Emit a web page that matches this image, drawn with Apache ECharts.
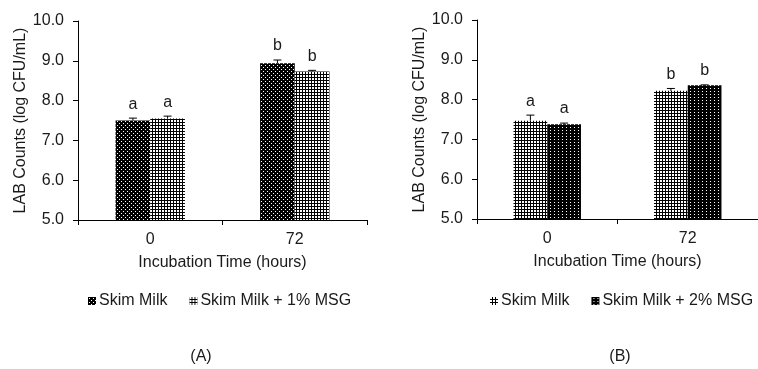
<!DOCTYPE html>
<html>
<head>
<meta charset="utf-8">
<script src="https://cdn.jsdelivr.net/npm/echarts@6/dist/echarts.min.js"></script>
<style>
  html, body { margin: 0; padding: 0; background: #fff; }
  #chartWrap { width: 758px; height: 369px; }
</style>
</head>
<body>
<div id="chartWrap"></div>
<script>
// 数据
var categories = ['0', '72']
var yTicks = [5, 6, 7, 8, 9, 10]

// (A) 脱脂奶 vs 脱脂奶 + 1% MSG
var skimA = [7.50, 8.94]
var skimAErr = [0.06, 0.08]
var skimALetters = ['a', 'b']
var msg1A = [7.55, 8.73]
var msg1AErr = [0.06, 0.03]
var msg1ALetters = ['a', 'b']

// (B) 脱脂奶 vs 脱脂奶 + 2% MSG
var skimB = [7.47, 8.22]
var skimBErr = [0.14, 0.06]
var skimBLetters = ['a', 'b']
var msg2B = [7.38, 8.36]
var msg2BErr = [0.03, 0.01]
var msg2BLetters = ['a', 'b']

var FONT = 'Liberation Sans, Arial, sans-serif'
var TXT = '#1a1a1a'
var FS = 16

// 填充图案
function makePattern(w, h, bg, fg, pts) {
  var c = document.createElement('canvas')
  c.width = w
  c.height = h
  var ctx = c.getContext('2d')
  ctx.fillStyle = bg
  ctx.fillRect(0, 0, w, h)
  ctx.fillStyle = fg
  pts.forEach(function (p) { ctx.fillRect(p[0], p[1], 1, 1) })
  return { image: c, repeat: 'repeat' }
}
// 黑底白点
var dotPattern = makePattern(4, 4, '#000', '#fff', [[1, 1], [3, 3]])
// 棋盘灰
var checkPattern = makePattern(3, 3, '#000', '#fff', [[0, 0], [1, 0], [0, 1], [1, 1]])
// 稀疏白点
var sparsePattern = makePattern(4, 3, '#000', '#fff', [[2, 1]])

function errData(vals, errs, letters) {
  return vals.map(function (v, i) { return [i, v, errs[i], letters[i]] })
}

function errSeries(idx, off, vals, errs, letters) {
  return {
    type: 'custom',
    name: 'err' + idx + off,
    xAxisIndex: idx,
    yAxisIndex: idx,
    z: 5,
    silent: true,
    encode: { x: 0, y: 1 },
    data: errData(vals, errs, letters),
    renderItem: function (params, api) {
      var bw = api.size([1, 0])[0]
      var base = api.coord([api.value(0), api.value(1)])
      var top = api.coord([api.value(0), api.value(1) + api.value(2)])
      var x = base[0] + bw * off
      var capW = 4
      return {
        type: 'group',
        children: [
          { type: 'line', shape: { x1: x, y1: base[1], x2: x, y2: top[1] }, style: { stroke: '#000', lineWidth: 1 } },
          { type: 'line', shape: { x1: x - capW, y1: top[1], x2: x + capW, y2: top[1] }, style: { stroke: '#000', lineWidth: 1 } },
          { type: 'text', x: x, y: top[1] - 6, style: { text: api.value(3), fill: TXT, font: FS + 'px ' + FONT, align: 'center', verticalAlign: 'bottom' } }
        ]
      }
    }
  }
}

function xAxisCfg(idx) {
  return {
    type: 'category',
    gridIndex: idx,
    data: categories,
    boundaryGap: true,
    name: 'Incubation Time (hours)',
    nameLocation: 'middle',
    nameGap: 35,
    nameTextStyle: { color: TXT, fontSize: FS, fontFamily: FONT },
    axisLine: { lineStyle: { color: '#000', width: 1 } },
    axisTick: { show: true, length: 5, lineStyle: { color: '#000' } },
    axisLabel: { color: TXT, fontSize: FS, fontFamily: FONT, margin: 12 }
  }
}

function yAxisCfg(idx, gap) {
  return {
    type: 'value',
    gridIndex: idx,
    min: yTicks[0],
    max: yTicks[yTicks.length - 1],
    interval: 1,
    name: 'LAB Counts (log CFU/mL)',
    nameLocation: 'middle',
    nameGap: gap,
    nameTextStyle: { color: TXT, fontSize: FS, fontFamily: FONT },
    axisLine: { show: true, lineStyle: { color: '#000', width: 1 } },
    axisTick: { show: true, length: 5, lineStyle: { color: '#000' } },
    splitLine: { show: false },
    axisLabel: {
      color: TXT, fontSize: FS, fontFamily: FONT, margin: 14,
      formatter: function (v) { return v.toFixed(1) }
    }
  }
}

function barSeries(idx, name, vals, pattern) {
  return {
    type: 'bar',
    name: name,
    xAxisIndex: idx,
    yAxisIndex: idx,
    barWidth: '24%',
    barGap: '0%',
    itemStyle: { color: pattern },
    data: vals
  }
}

var legendBase = {
  itemWidth: 8,
  itemHeight: 8,
  icon: 'rect',
  width: 320,
  textStyle: { color: TXT, fontSize: FS, fontFamily: FONT, padding: [0, 0, 0, -2] }
}

var myChart = echarts.init(document.getElementById('chartWrap'))
var option = {
  backgroundColor: '#fff',
  animation: false,
  grid: [
    { left: 78, top: 21, width: 289, height: 199 },
    { left: 477, top: 20, width: 288, height: 199 }
  ],
  xAxis: [xAxisCfg(0), xAxisCfg(1)],
  yAxis: [yAxisCfg(0, 49), yAxisCfg(1, 47)],
  legend: [
    Object.assign({ left: 83, top: 288, itemGap: 22, data: ['Skim Milk', 'Skim Milk + 1% MSG'] }, legendBase),
    Object.assign({ left: 485, top: 288, itemGap: 22, data: ['Skim Milk ', 'Skim Milk + 2% MSG'],
      formatter: function (n) { return n.trim() } }, legendBase)
  ],
  graphic: [
    { type: 'text', x: 201, y: 357, style: { text: '(A)', fill: TXT, font: FS + 'px ' + FONT, align: 'center', verticalAlign: 'middle' } },
    { type: 'text', x: 620, y: 357, style: { text: '(B)', fill: TXT, font: FS + 'px ' + FONT, align: 'center', verticalAlign: 'middle' } }
  ],
  series: [
    barSeries(0, 'Skim Milk', skimA, dotPattern),
    barSeries(0, 'Skim Milk + 1% MSG', msg1A, checkPattern),
    barSeries(1, 'Skim Milk ', skimB, checkPattern),
    barSeries(1, 'Skim Milk + 2% MSG', msg2B, sparsePattern),
    errSeries(0, -0.12, skimA, skimAErr, skimALetters),
    errSeries(0, 0.12, msg1A, msg1AErr, msg1ALetters),
    errSeries(1, -0.12, skimB, skimBErr, skimBLetters),
    errSeries(1, 0.12, msg2B, msg2BErr, msg2BLetters)
  ]
}
myChart.setOption(option)
</script>
</body>
</html>
